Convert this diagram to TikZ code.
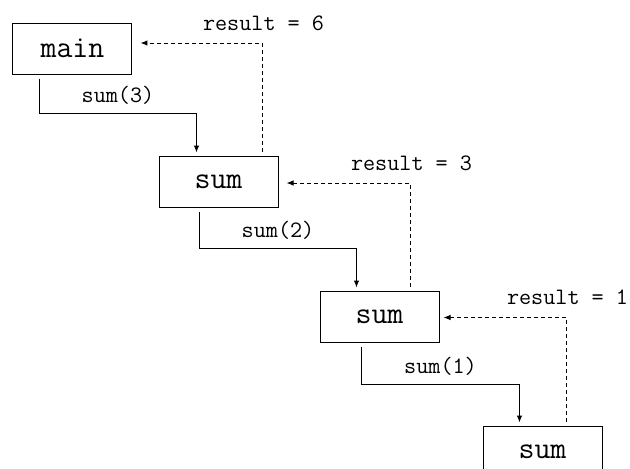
\documentclass[tikz,border=0pt]{standalone}
\usepackage{fontspec}
\usetikzlibrary{positioning}
\usetikzlibrary{arrows.meta}

\begin{document}
\begin{tikzpicture}
	[x=1pt, y=1pt, line width=1pt,
	frame/.style = {draw, minimum width=119pt, minimum height=51pt, inner sep=0pt, font=\ttfamily\fontsize{31}{34}\selectfont},
	call/.style = {-{Latex[length=7pt,width=5.5pt]}},
	ret/.style = {-{Latex[length=7pt,width=5.5pt]}, dash pattern=on 4pt off 3pt},
	lbl/.style = {anchor=base, inner sep=0pt, font=\ttfamily\fontsize{23.5}{27}\selectfont},
	res/.style = {lbl, anchor=base west, xshift=-60pt, yshift=13pt}]
	\useasboundingbox (-72.5,-420.5) rectangle (557.5,48.5);
	\node[frame] (main) {main};
	\node[frame] (s1) [below right = 81pt and 26pt of main] {sum};
	\node[frame] (s2) [below right = 83pt and 41pt of s1] {sum};
	\node[frame] (s3) [below right = 83pt and 43pt of s2] {sum};
	\draw[call] ([xshift=27pt, yshift=-4pt]main.south west) -- ++(0,-35) -| node[lbl, pos=0.25, yshift=11pt] {sum(3)} ([xshift=38pt, yshift=3pt]s1.north west);
	\draw[call] ([xshift=41pt, yshift=-4pt]s1.south west) -- ++(0,-37) -| node[lbl, pos=0.25, yshift=11pt] {sum(2)} ([xshift=37pt, yshift=3pt]s2.north west);
	\draw[call] ([xshift=42pt, yshift=-4pt]s2.south west) -- ++(0,-38) -| node[lbl, pos=0.25, yshift=11pt] {sum(1)} ([xshift=37pt, yshift=3pt]s3.north west);
	\draw[ret] ([xshift=-16pt, yshift=4pt]s1.north east) |- node[res] {result = 6} ([xshift=8pt, yshift=5.5pt]main.east);
	\draw[ret] ([xshift=-29pt, yshift=4pt]s2.north east) |- node[res] {result = 3} ([xshift=8pt, yshift=-1.5pt]s1.east);
	\draw[ret] ([xshift=-36pt, yshift=4pt]s3.north east) |- node[res] {result = 1} ([xshift=4pt, yshift=-1pt]s2.east);
\end{tikzpicture}
\end{document}
